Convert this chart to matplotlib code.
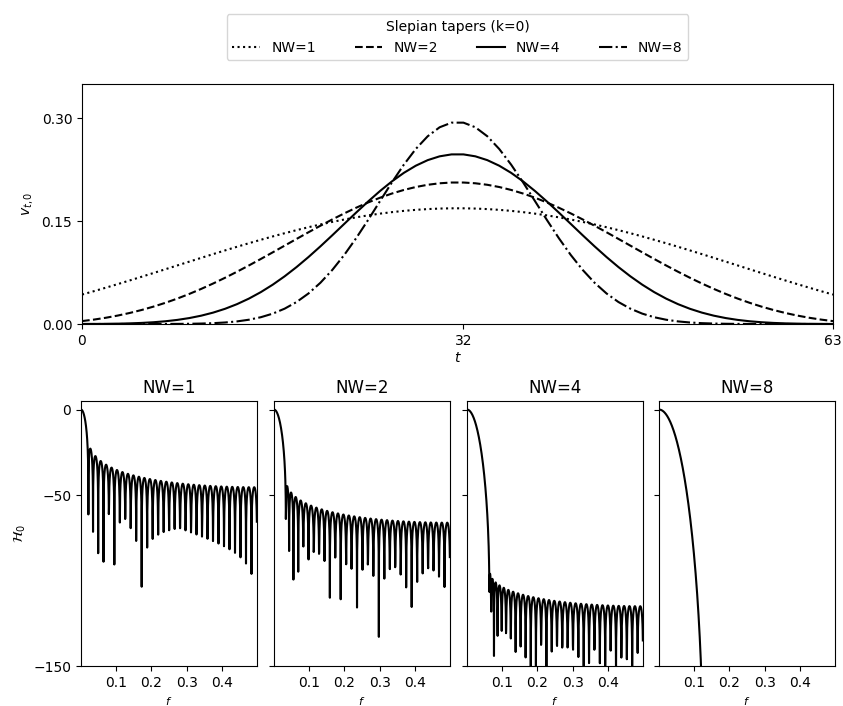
import numpy as np
import matplotlib
matplotlib.use("Agg")
import matplotlib.pyplot as plt

# Data parameters
N = 64                      # taper length
NW_values = [1, 2, 4, 8]    # time-bandwidth products
NFFT = 2048                 # zero-padded FFT length
styles = [":", "--", "-", "-."]
labels = ["NW=1", "NW=2", "NW=4", "NW=8"]


def dpss0(n, nw):
    w = nw / n
    t = np.arange(n)
    diag = ((n - 1 - 2 * t) / 2.0) ** 2 * np.cos(2 * np.pi * w)
    off = t[1:] * (n - t[1:]) / 2.0
    m = np.diag(diag) + np.diag(off, 1) + np.diag(off, -1)
    vals, vecs = np.linalg.eigh(m)
    v = vecs[:, -1]
    v = v / np.sqrt(np.sum(v ** 2))
    if v.sum() < 0:
        v = -v
    return v


tapers = [dpss0(N, nw) for nw in NW_values]

fig = plt.figure(figsize=(8.43, 7.06), dpi=100)
W, H = 843.0, 706.0

ax = fig.add_axes([82 / W, 1 - 324 / H, (833 - 82) / W, (324 - 84) / H])
t = np.arange(N)
for v, ls, lab in zip(tapers, styles, labels):
    ax.plot(t, v, color="black", linestyle=ls, lw=1.5, label=lab)
ax.set_xlim(0, N - 1)
ax.set_ylim(0, 0.35)
ax.set_xticks([0, 32, 63])
ax.set_yticks([0.0, 0.15, 0.30])
ax.set_yticklabels(["0.00", "0.15", "0.30"])
ax.set_xlabel("$t$", labelpad=2)
ax.set_ylabel("$v_{t,0}$")
leg = ax.legend(loc="lower center", bbox_to_anchor=(0.5, 1.07), ncol=4,
                title="Slepian tapers (k=0)", frameon=True,
                handlelength=2, columnspacing=2.8)

lefts = [81, 274, 467, 659]
axes = []
for i, (v, nw, lab) in enumerate(zip(tapers, NW_values, labels)):
    a = fig.add_axes([lefts[i] / W, 1 - 666 / H, 176 / W, (666 - 401) / H])
    spec = np.abs(np.fft.rfft(v, NFFT)) ** 2
    f = np.fft.rfftfreq(NFFT)
    with np.errstate(divide="ignore"):
        h = 10 * np.log10(spec / spec[0])
    a.plot(f, h, color="black", lw=1.5)
    a.set_xlim(0, 0.5)
    a.set_ylim(-150, 5)
    a.set_yticks([-150, -50, 0])
    a.set_xticks([0.1, 0.2, 0.3, 0.4])
    a.set_title(lab)
    a.set_xlabel("$f$", fontsize=8)
    if i == 0:
        a.set_ylabel(r"$\mathcal{H}_0$")
    else:
        a.set_yticklabels([])
    axes.append(a)

fig.savefig("out.png", dpi=100)
